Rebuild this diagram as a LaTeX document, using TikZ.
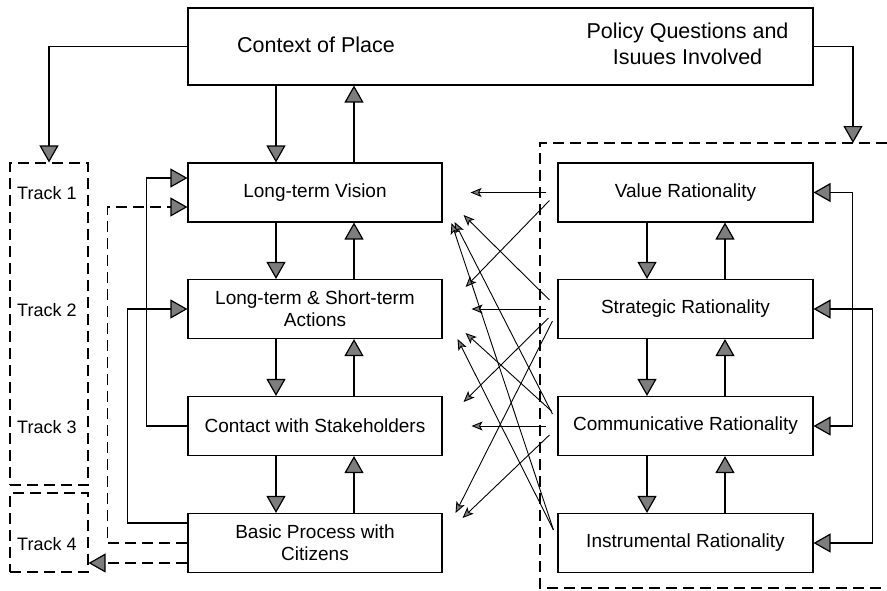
\documentclass[tikz,border=0pt]{standalone}
\usepackage{fontspec}
\setmainfont{Liberation Sans}
\usetikzlibrary{arrows.meta,calc}
\definecolor{arrgray}{RGB}{125,125,125}
\begin{document}
\begin{tikzpicture}[x=1pt,y=-1pt,
  box/.style={draw, line width=1.1pt, minimum width=254pt, minimum height=59pt, inner sep=0pt, align=center, font=\fontsize{19}{22}\selectfont},
  trackbox/.style={draw, line width=1.1pt, dash pattern=on 11pt off 6pt, minimum width=78pt, inner sep=0pt},
  tracktext/.style={anchor=west, inner sep=0pt, font=\fontsize{18}{21}\selectfont},
  big/.style={line width=1.2pt, -{Triangle[length=17pt,width=19pt,fill=arrgray]}},
  bigboth/.style={line width=1.2pt, {Triangle[length=17pt,width=19pt,fill=arrgray]}-{Triangle[length=17pt,width=19pt,fill=arrgray]}},
  dashline/.style={line width=1.1pt, dash pattern=on 11pt off 6pt},
  small/.style={line width=0.9pt, -{Stealth[length=11pt,width=9pt,inset=2.5pt,fill=arrgray]}}
]
\useasboundingbox (0,0) rectangle (887,590);

% top box
\node[draw, line width=1.1pt, minimum width=625pt, minimum height=77pt, inner sep=0pt] (top) at (500.5,46.5) {};
\node[inner sep=0pt, font=\fontsize{21.5}{26}\selectfont] (ctx) at (316,45) {Context of Place};
\node[inner sep=0pt, align=center, font=\fontsize{21.5}{26}\selectfont] (pol) at (687.5,44) {Policy Questions and\\Isuues Involved};

% tracks
\node[trackbox, minimum height=322pt] (trk) at (49,324) {};
\node[trackbox, minimum height=79pt] (t4) at (49,532.5) {};
\node[tracktext] (t1l) at (17,193) {Track 1};
\node[tracktext] (t2l) at (17,310) {Track 2};
\node[tracktext] (t3l) at (17,427) {Track 3};
\node[tracktext] (t4l) at (17,544) {Track 4};

% left column
\node[box] (lv) at (315,192.5) {Long-term Vision};
\node[box] (ls) at (315,309) {Long-term \& Short-term\\Actions};
\node[box] (cs) at (315,426) {Contact with Stakeholders};
\node[box] (bp) at (315,543) {Basic Process with\\Citizens};

% right column
\node[box, minimum width=255pt] (val) at (685.5,192.5) {Value Rationality};
\node[box, minimum width=255pt] (str) at (685.5,309) {Strategic Rationality};
\node[box, minimum width=255pt] (com) at (685.5,426) {Communicative Rationality};
\node[box, minimum width=255pt] (ins) at (685.5,543) {Instrumental Rationality};

% dashed frame on the right
\coordinate (rin) at (853,143);
\draw[dashline] (887,143) -- (540,143) -- (540,588) -- (887,588);

% column x positions
\coordinate (dl) at (276,0);
\coordinate (ul) at (354,0);
\coordinate (dr) at (647,0);
\coordinate (ur) at (725,0);

% top connectors
\draw[big] (top.west) -| (trk.north);
\draw[big] (top.east) -| (rin);
\draw[big] (top.south -| dl) -- (lv.north -| dl);
\draw[big] (lv.north -| ul) -- (top.south -| ul);

% vertical arrows
\foreach \a/\b in {lv/ls, ls/cs, cs/bp} {
  \draw[big] (\a.south -| dl) -- (\b.north -| dl);
  \draw[big] (\b.north -| ul) -- (\a.south -| ul);
}
\foreach \a/\b in {val/str, str/com, com/ins} {
  \draw[big] (\a.south -| dr) -- (\b.north -| dr);
  \draw[big] (\b.north -| ur) -- (\a.south -| ur);
}

% left loops
\draw[big] (cs.west) -- ++(-41,0) |- ($(lv.west)+(0,-14.5)$);
\draw[big] ($(bp.west)+(0,-20)$) -- ++(-60,0) |- (ls.west);
\draw[big, dash pattern=on 11pt off 6pt] (bp.west) -- ++(-80,0) |- ($(lv.west)+(0,14.5)$);
\draw[big, dash pattern=on 11pt off 6pt] ($(bp.west)+(0,20)$) coordinate (q) -- (q -| t4.east);

% right loops
\draw[bigboth] (val.east) -- ++(39,0) |- (com.east);
\draw[bigboth] (str.east) -- ++(59,0) |- (ins.east);

% crossing arrows
\draw[small] ($(val.west)+(-11,0)$) -- ($(lv.east)+(28,0)$);
\draw[small] ($(val.west)+(-8,8)$) -- ($(ls.east)+(23,-22)$);
\draw[small] ($(str.west)+(-8,-9)$) -- ($(lv.east)+(21,22.5)$);
\draw[small] ($(str.west)+(-11,0)$) -- ($(ls.east)+(29,0)$);
\draw[small] ($(str.west)+(-9,9)$) -- ($(cs.east)+(21,-24)$);
\draw[small] ($(str.west)+(-5,12)$) -- ($(bp.east)+(13,-30)$);
\draw[small] ($(com.west)+(-5,-12)$) -- ($(lv.east)+(12,29.5)$);
\draw[small] ($(com.west)+(-6,-15)$) -- ($(ls.east)+(23,24)$);
\draw[small] ($(com.west)+(-11,0)$) -- ($(cs.east)+(29,0)$);
\draw[small] ($(com.west)+(-8,9)$) -- ($(bp.east)+(20,-25)$);
\draw[small] ($(ins.west)+(-4,-13)$) -- ($(lv.east)+(9,30.5)$);
\draw[small] ($(ins.west)+(-4,-13)$) -- ($(ls.east)+(15,30)$);
\end{tikzpicture}
\end{document}
